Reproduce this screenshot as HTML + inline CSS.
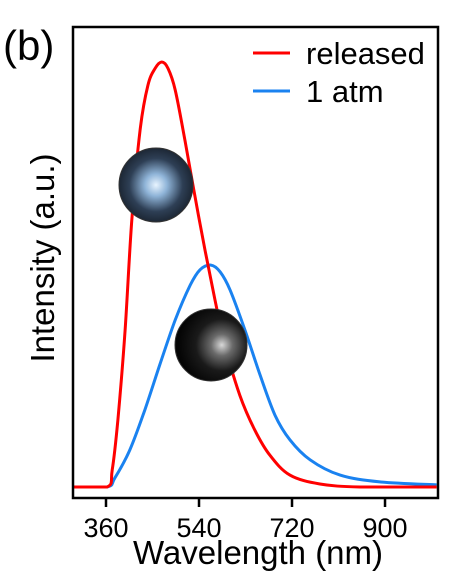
<!DOCTYPE html>
<html><head><meta charset="utf-8"><style>
html,body{margin:0;padding:0;background:#fff;}
svg{display:block;font-family:"Liberation Sans",Arial,sans-serif;}
</style></head><body>
<svg id="chart" width="451" height="573" viewBox="0 0 451 573">
<defs>
<radialGradient id="g1" cx="0.5" cy="0.5" r="0.6">
<stop offset="0" stop-color="#e8f4ff"/><stop offset="0.25" stop-color="#8fb4d8"/><stop offset="0.6" stop-color="#2e3f55"/><stop offset="1" stop-color="#10161e"/></radialGradient>
<radialGradient id="g2" cx="0.65" cy="0.5" r="0.6">
<stop offset="0" stop-color="#d8d8d8"/><stop offset="0.25" stop-color="#6a6a6a"/><stop offset="0.6" stop-color="#1a1a1a"/><stop offset="1" stop-color="#050505"/></radialGradient>
</defs>
<text x="3" y="60" font-size="42">(b)</text>
<g id="plot"></g>
<rect x="73" y="27" width="365" height="471" fill="none" stroke="#000" stroke-width="2.5"/>
<g id="ticks"></g>
<text x="258" y="564" font-size="33" text-anchor="middle">Wavelength (nm)</text>
<text transform="translate(54,258) rotate(-90)" font-size="33" text-anchor="middle">Intensity (a.u.)</text>
<line x1="253" y1="53" x2="290" y2="53" stroke="#ff0000" stroke-width="3"/>
<text x="306" y="64" font-size="31">released</text>
<line x1="253" y1="91" x2="290" y2="91" stroke="#1a82f0" stroke-width="3"/>
<text x="306" y="102" font-size="31">1 atm</text>
</svg>
<script>
const xTicks=[360,540,720,900];
const redNm=[296,362,372,383,397,410,426,441,455,468,480,494,513,532,552,571,590,619,648,677,716,774,852,1000];
const redVal=[0,0,0.04,0.158,0.369,0.628,0.84,0.945,0.985,1.0,0.985,0.934,0.814,0.685,0.555,0.44,0.334,0.216,0.134,0.075,0.028,0.007,0,0];
const blueNm=[296,362,377,406,435,464,494,523,542,563,581,600,629,658,687,716,755,813,890,1000];
const blueVal=[0,0,0.021,0.087,0.181,0.287,0.393,0.475,0.511,0.522,0.506,0.464,0.369,0.264,0.169,0.111,0.064,0.028,0.012,0.005];
const NS='http://www.w3.org/2000/svg';
function xs(nm){return 106+(nm-360)*0.5167;}
function ys(v){return 487-v*425;}
const plot=document.getElementById('plot');
function series(nms,vals,color,name){
  const pts=nms.map((n,i)=>[xs(n),ys(vals[i])]);
  let d='M'+pts[0][0].toFixed(1)+','+pts[0][1].toFixed(1);
  for(let i=0;i<pts.length-1;i++){
    const p0=pts[Math.max(0,i-1)],p1=pts[i],p2=pts[i+1],p3=pts[Math.min(pts.length-1,i+2)];
    let c1=[p1[0]+(p2[0]-p0[0])/6,p1[1]+(p2[1]-p0[1])/6];
    let c2=[p2[0]-(p3[0]-p1[0])/6,p2[1]-(p3[1]-p1[1])/6];
    const lo=Math.min(p1[1],p2[1]),hi=Math.max(p1[1],p2[1]);
    if(p1[1]===p0[1]||p1[1]===p2[1]) c1[1]=Math.min(Math.max(c1[1],lo),hi);
    if(p2[1]===p3[1]||p1[1]===p2[1]) c2[1]=Math.min(Math.max(c2[1],lo),hi);
    d+='C'+c1[0].toFixed(1)+','+c1[1].toFixed(1)+' '+c2[0].toFixed(1)+','+c2[1].toFixed(1)+' '+p2[0].toFixed(1)+','+p2[1].toFixed(1);
  }
  const p=document.createElementNS(NS,'path');
  p.setAttribute('d',d);p.setAttribute('fill','none');p.setAttribute('stroke',color);
  p.setAttribute('stroke-width','3');p.setAttribute('stroke-linejoin','round');
  
  
  plot.appendChild(p);
}
series(blueNm,blueVal,'#1a82f0','series-1atm');
series(redNm,redVal,'#ff0000','series-released');
function circ(cx,cy,r,fill,name){
  const c=document.createElementNS(NS,'circle');
  c.setAttribute('cx',cx);c.setAttribute('cy',cy);c.setAttribute('r',r);c.setAttribute('fill',fill);
  c.setAttribute('stroke','#333');c.setAttribute('stroke-width','1');
  
  
  plot.appendChild(c);
}
circ(156,185,37,'url(#g1)','inset-photo-released');
circ(211,345,36,'url(#g2)','inset-photo-1atm');
const tg=document.getElementById('ticks');
xTicks.forEach(t=>{
  const l=document.createElementNS(NS,'line');
  l.setAttribute('x1',xs(t));l.setAttribute('x2',xs(t));l.setAttribute('y1',498);l.setAttribute('y2',507);
  l.setAttribute('stroke','#000');l.setAttribute('stroke-width','2.5');
  
  
  tg.appendChild(l);
  const tx=document.createElementNS(NS,'text');
  tx.setAttribute('x',xs(t));tx.setAttribute('y',537);tx.setAttribute('font-size','27');tx.setAttribute('text-anchor','middle');
  tx.textContent=t;
  
  
  tg.appendChild(tx);
});
</script>
</body></html>
